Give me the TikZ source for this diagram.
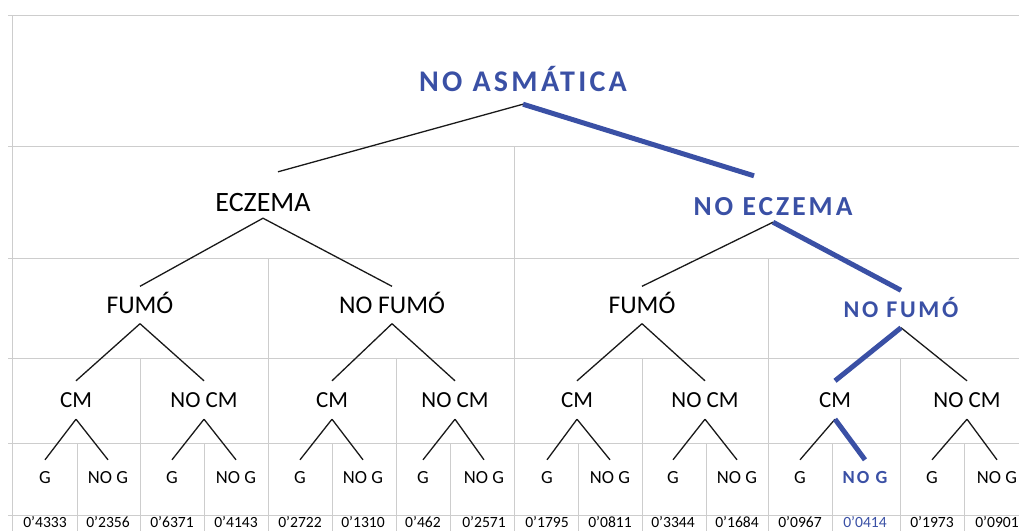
\documentclass[tikz,border=0pt]{standalone}
\usepackage{fontspec}
\setmainfont{Carlito}
\newfontfamily\pathfont[LetterSpace=11]{Carlito}
\definecolor{pathblue}{RGB}{58,80,165}
\definecolor{gridgray}{RGB}{205,205,205}

\begin{document}
\begin{tikzpicture}[x=1pt, y=-1pt,
    grid/.style={draw=gridgray, line width=0.9pt},
    branch/.style={draw=black!90, line width=1.3pt},
    chosen/.style={draw=pathblue, line width=5pt},
    pick/.style={text=pathblue, execute at begin node=\pathfont\bfseries},
    top/.style={inner sep=0pt, font=\fontsize{28}{30}\selectfont, text height=17.7pt, text depth=0pt, minimum height=30pt},
    mid/.style={inner sep=0pt, font=\fontsize{25.5}{28}\selectfont, text height=16.1pt, text depth=0pt, minimum height=37pt},
    low/.style={inner sep=0pt, font=\fontsize{23}{26}\selectfont, text height=14.5pt, text depth=0pt, minimum height=38pt},
    leaf/.style={inner sep=0pt, font=\fontsize{18.5}{20}\selectfont, text height=11.7pt, text depth=0pt, minimum height=36pt},
    val/.style={inner sep=0pt, font=\fontsize{15.6}{17}\selectfont, text height=9.9pt, text depth=0pt}]
    \useasboundingbox (0,0) rectangle (1019,531);
    \clip (0,0) rectangle (1019,531);

    % table lines
    \foreach \y in {15,146,258,358,443,515}
        \draw[grid] (8,\y) -- (1019,\y);
    \foreach \x/\y in {12/15, 514/146, 268/258, 768/258, 140/358, 396/358, 642/358, 900/358,
                       77/443, 204/443, 332/443, 450/443, 578/443, 706/443, 832/443, 964/443}
        \draw[grid] (\x,\y) -- (\x,531);

    % tree
    \node[top, pick, font=\fontsize{30}{32}\selectfont, minimum height=42pt](asm) at (523,83) {NO ASMÁTICA};
    \node[top](ecz) at (263,203) {ECZEMA};
    \node[top, pick, font=\fontsize{27.5}{29}\selectfont](noecz) at (773,207) {NO ECZEMA};

    \node[mid](fA) at (140,305) {FUMÓ};
    \node[mid](nfA) at (392,305) {NO FUMÓ};
    \node[mid](fB) at (642,305) {FUMÓ};
    \node[mid, pick, font=\fontsize{24}{26}\selectfont](nfB) at (901,309) {NO FUMÓ};

    \node[low](cA) at (76,400) {CM};
    \node[low](ncA) at (204,400) {NO CM};
    \node[low](cB) at (332,400) {CM};
    \node[low](ncB) at (455,400) {NO CM};
    \node[low](cC) at (577,400) {CM};
    \node[low](ncC) at (705,400) {NO CM};
    \node[low](cD) at (835,400) {CM};
    \node[low](ncD) at (967,400) {NO CM};

    \foreach \i/\x/\lab/\num in {1/45/G/0’4333, 2/108/NO G/0’2356, 3/172/G/0’6371, 4/236/NO G/0’4143,
                                 5/300/G/0’2722, 6/363/NO G/0’1310, 7/423/G/0’462, 8/484/NO G/0’2571,
                                 9/547/G/0’1795, 10/610/NO G/0’0811, 11/673/G/0’3344, 12/737/NO G/0’1684,
                                 13/800/G/0’0967, 15/932/G/0’1973, 16/997/NO G/0’0901}
    {
        \node[leaf](g\i) at (\x,478) {\lab};
        \node[val](v\i) at (\x,523) {\num};
    }
    \node[leaf, pick](g14) at (865,478) {NO G};
    \node[val, text=pathblue](v14) at (865,523) {0’0414};

    \path[branch]
    (asm.south) edge ([xshift=15pt, yshift=16pt]ecz.north)
    (ecz.south) edge (fA.north)
    (ecz.south) edge (nfA.north)
    (noecz.south) edge (fB.north)
    (fA.south) edge (cA.north)
    (fA.south) edge (ncA.north)
    (nfA.south) edge (cB.north)
    (nfA.south) edge (ncB.north)
    (fB.south) edge (cC.north)
    (fB.south) edge (ncC.north)
    (nfB.south) edge (ncD.north)
    (cA.south) edge (g1.north)
    (cA.south) edge (g2.north)
    (ncA.south) edge (g3.north)
    (ncA.south) edge (g4.north)
    (cB.south) edge (g5.north)
    (cB.south) edge (g6.north)
    (ncB.south) edge (g7.north)
    (ncB.south) edge (g8.north)
    (cC.south) edge (g9.north)
    (cC.south) edge (g10.north)
    (ncC.south) edge (g11.north)
    (ncC.south) edge (g12.north)
    (cD.south) edge (g13.north)
    (ncD.south) edge (g15.north)
    (ncD.south) edge (g16.north);

    \path[chosen]
    (asm.south) edge ([xshift=-19pt, yshift=16pt]noecz.north)
    (noecz.south) edge (nfB.north)
    (nfB.south) edge (cD.north)
    (cD.south) edge (g14.north);
\end{tikzpicture}
\end{document}
